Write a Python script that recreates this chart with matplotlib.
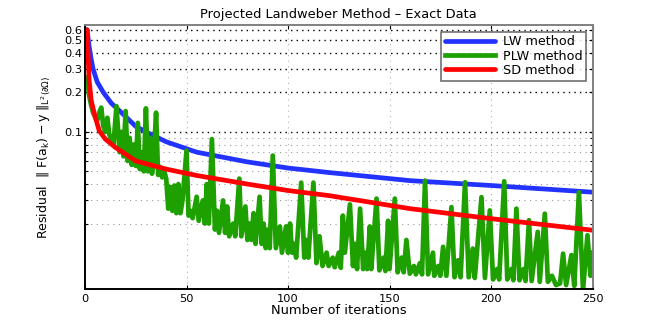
import matplotlib
matplotlib.use("Agg")
import matplotlib.pyplot as plt
from matplotlib.ticker import FixedLocator, NullFormatter

plt.rcParams['font.family'] = ['DejaVu Sans']
plt.rcParams['mathtext.fontset'] = 'dejavusans'

# ---------------- data ----------------
lw_iter = [1, 2, 3, 4, 6, 9, 13, 18, 25, 30, 40, 55, 80, 100, 120, 160, 200, 250]
lw_res = [0.6, 0.45, 0.36, 0.30, 0.24, 0.20, 0.165, 0.14, 0.11, 0.10, 0.084, 0.070,
          0.059, 0.053, 0.049, 0.0425, 0.039, 0.0347]

sd_iter = [1, 2, 3, 4, 5, 7, 10, 15, 25, 40, 55, 80, 100, 120, 160, 200, 250]
sd_res = [0.6, 0.25, 0.175, 0.15, 0.13, 0.102, 0.088, 0.076, 0.06, 0.052, 0.0465,
          0.040, 0.0357, 0.0327, 0.026, 0.0218, 0.0178]

plw_iter = [1, 2, 3, 4, 5, 6, 7, 8, 9, 10, 11, 12, 13, 14, 15.5, 17, 18, 19, 20, 21,
            22, 23, 24, 25, 26, 27, 28, 29, 30, 31, 32, 33, 34, 35, 36, 37, 38, 39, 40,
            41, 42, 43, 44, 45, 46, 47, 48, 50, 51, 52, 53, 55, 56, 58, 59, 60, 61, 62.5,
            64, 65, 66, 68, 69, 70, 71, 73, 74, 76, 77, 79, 80, 81, 82, 83, 84, 86, 87,
            88, 89, 90, 91, 92.5, 94, 96, 97, 99, 100, 101, 102, 103, 104, 106.5, 108,
            109, 110, 112.5, 114, 115.5, 117, 119, 120, 122, 123, 125, 126, 127, 128,
            130.5, 132, 133, 134, 135.5, 137, 138, 139, 140.3, 141, 143.6, 145, 147, 148,
            149.3, 150, 152.6, 154, 156, 157, 158.3, 160, 162, 163, 165, 166, 167.5, 169,
            171.4, 172, 174, 175, 176.4, 178, 180.5, 182, 183.8, 185, 187.2, 189, 191,
            192, 195.3, 197, 199.4, 201, 203, 204, 206.5, 208, 210, 211, 212.5, 214, 216,
            217, 218.7, 220, 223, 224, 226.5, 228, 230, 232, 234, 235.5, 237, 239.6, 241,
            243.3, 245.3, 247.5, 249, 250]
plw_res = [0.26, 0.19, 0.16, 0.14, 0.13, 0.122, 0.14, 0.153, 0.11, 0.10, 0.128, 0.095,
           0.085, 0.08, 0.157, 0.07, 0.10, 0.065, 0.144, 0.06, 0.09, 0.056, 0.08, 0.055,
           0.117, 0.052, 0.07, 0.05, 0.151, 0.05, 0.09, 0.048, 0.07, 0.14, 0.047, 0.054,
           0.045, 0.05, 0.044, 0.026, 0.038, 0.025, 0.039, 0.024, 0.040, 0.024, 0.03,
           0.072, 0.023, 0.025, 0.022, 0.032, 0.021, 0.03, 0.02, 0.04, 0.02, 0.088, 0.018,
           0.025, 0.017, 0.03, 0.017, 0.027, 0.016, 0.02, 0.016, 0.044, 0.016, 0.027,
           0.015, 0.02, 0.015, 0.024, 0.014, 0.032, 0.014, 0.02, 0.013, 0.018, 0.013,
           0.066, 0.013, 0.019, 0.012, 0.019, 0.012, 0.02, 0.012, 0.014, 0.011, 0.041,
           0.011, 0.015, 0.011, 0.041, 0.010, 0.016, 0.0095, 0.012, 0.0095, 0.011, 0.0093,
           0.012, 0.0092, 0.023, 0.012, 0.028, 0.0095, 0.014, 0.009, 0.026, 0.009, 0.012,
           0.009, 0.019, 0.009, 0.031, 0.0088, 0.011, 0.0087, 0.021, 0.009, 0.031, 0.0085,
           0.011, 0.0085, 0.015, 0.0083, 0.0095, 0.0082, 0.010, 0.0082, 0.0425, 0.0082,
           0.012, 0.008, 0.0095, 0.008, 0.0133, 0.008, 0.0267, 0.0078, 0.0105, 0.0078,
           0.0413, 0.0078, 0.0129, 0.0077, 0.0318, 0.0077, 0.0252, 0.0075, 0.009, 0.0075,
           0.042, 0.0075, 0.009, 0.0074, 0.026, 0.0074, 0.009, 0.0073, 0.0212, 0.0073,
           0.0173, 0.0072, 0.0238, 0.0072, 0.008, 0.0068, 0.007, 0.0118, 0.0068, 0.0115,
           0.0067, 0.0347, 0.0062, 0.0163, 0.008, 0.012]

y_major = [0.1, 0.2, 0.3, 0.4, 0.5, 0.6]
y_major_labels = ['0.1', '0.2', '0.3', '0.4', '0.5', '0.6']
y_minor = [0.02, 0.03, 0.04, 0.05, 0.06, 0.07, 0.08, 0.09]
x_ticks = [0, 50, 100, 150, 200, 250]

# ---------------- figure ----------------
fig = plt.figure(figsize=(6.54, 3.27), dpi=100)
ax = fig.add_axes([0.130, 0.115, 0.776, 0.808])

ax.plot(lw_iter, lw_res, color='#2233ff', lw=3.4, label='LW method', solid_capstyle='round')
ax.plot(plw_iter, plw_res, color='#1ea000', lw=3.4, label='PLW method', solid_joinstyle='round')
ax.plot(sd_iter, sd_res, color='#ff0000', lw=3.4, label='SD method', solid_capstyle='round')

ax.set_yscale('log')
ax.set_xlim(0, 250)
ax.set_ylim(0.0063, 0.65)
ax.yaxis.set_major_locator(FixedLocator(y_major))
ax.set_yticklabels(y_major_labels)
ax.yaxis.set_minor_locator(FixedLocator(y_minor))
ax.yaxis.set_minor_formatter(NullFormatter())
ax.set_xticks(x_ticks)

ax.grid(which='major', axis='y', linestyle=(0, (1, 3)), color='black', lw=1.0)
ax.grid(which='minor', axis='y', linestyle=(0, (1, 4)), color='0.6', lw=0.8)
ax.grid(which='major', axis='x', linestyle=(0, (1, 4)), color='0.7', lw=0.8)

ax.tick_params(which='both', direction='in', top=True, right=True, labelsize=8.2,
               length=3, width=0.8, pad=3)
ax.tick_params(axis='y', which='major', pad=2)
ax.tick_params(which='minor', length=2)
for s in ['left', 'bottom']:
    ax.spines[s].set_color('black')
    ax.spines[s].set_linewidth(1.4)
for s in ['top', 'right']:
    ax.spines[s].set_color('0.5')
    ax.spines[s].set_linewidth(1.4)

ax.set_title('Projected Landweber Method – Exact Data', fontsize=9.4, pad=5)
ax.set_xlabel('Number of iterations', fontsize=9.4, labelpad=0)
ax.set_ylabel(r'Residual  $\|\ \mathregular{F(a_k) - y}\ \|_{\mathregular{L^2(\partial\Omega)}}$',
              fontsize=9.0, labelpad=8)

leg = ax.legend(loc='upper right', fontsize=9.2, frameon=True, fancybox=False,
                edgecolor='0.3', handlelength=3.9, borderpad=0.3, labelspacing=0.1,
                handletextpad=0.6, borderaxespad=0.5)
leg.get_frame().set_linewidth(1.2)

fig.savefig('out.png', dpi=100)
